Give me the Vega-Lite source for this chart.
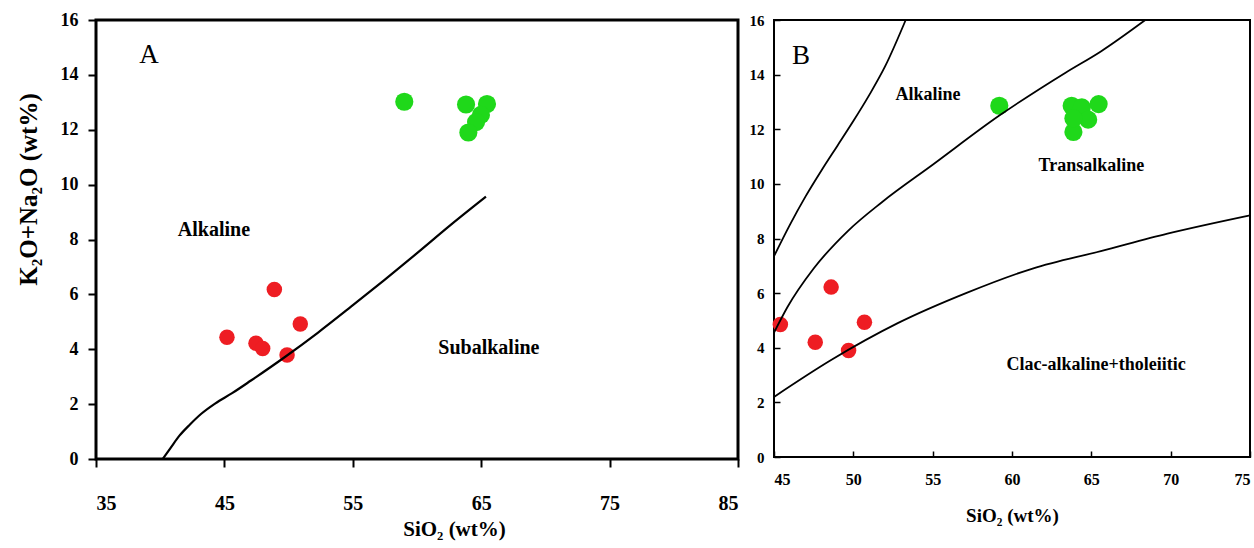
{
  "$schema": "https://vega.github.io/schema/vega-lite/v6.json",
  "background": "white",
  "padding": {"left": 14, "top": 9, "right": 0, "bottom": 0},
  "spacing": 36,
  "bounds": "flush",
  "config": {
    "font": "Liberation Serif",
    "view": {"stroke": null},
    "axis": {"labelFont": "Liberation Serif", "titleFont": "Liberation Serif", "labelFontWeight": "bold", "titleFontWeight": "bold", "labelColor": "black", "titleColor": "black", "tickColor": "black", "grid": false, "domain": false}
  },
  "datasets": {
    "a_pts": [
      {"sio2": 45.2, "alk": 4.44, "group": "mafic"},
      {"sio2": 47.46, "alk": 4.22, "group": "mafic"},
      {"sio2": 47.98, "alk": 4.03, "group": "mafic"},
      {"sio2": 48.89, "alk": 6.18, "group": "mafic"},
      {"sio2": 50.91, "alk": 4.92, "group": "mafic"},
      {"sio2": 49.88, "alk": 3.79, "group": "mafic"},
      {"sio2": 59.01, "alk": 13.02, "group": "felsic"},
      {"sio2": 63.82, "alk": 12.92, "group": "felsic"},
      {"sio2": 65.45, "alk": 12.94, "group": "felsic"},
      {"sio2": 64.98, "alk": 12.54, "group": "felsic"},
      {"sio2": 64.6, "alk": 12.28, "group": "felsic"},
      {"sio2": 64.0, "alk": 11.9, "group": "felsic"}
    ],
    "a_line": [
      {"sio2": 40.19, "alk": 0.0},
      {"sio2": 40.8, "alk": 0.4},
      {"sio2": 41.5, "alk": 0.85},
      {"sio2": 42.3, "alk": 1.25},
      {"sio2": 43.2, "alk": 1.65},
      {"sio2": 44.3, "alk": 2.03},
      {"sio2": 45.6, "alk": 2.4},
      {"sio2": 47.07, "alk": 2.86},
      {"sio2": 49.66, "alk": 3.7},
      {"sio2": 52.27, "alk": 4.6},
      {"sio2": 54.86, "alk": 5.55},
      {"sio2": 57.45, "alk": 6.52},
      {"sio2": 60.05, "alk": 7.52},
      {"sio2": 62.65, "alk": 8.54},
      {"sio2": 65.37, "alk": 9.56}
    ],
    "a_panel": [
      {"sio2": 39.13, "alk": 14.72, "label": "A"}
    ],
    "a_fields": [
      {"sio2": 44.19, "alk": 8.35, "label": "Alkaline"},
      {"sio2": 65.6, "alk": 4.05, "label": "Subalkaline"}
    ],
    "b_pts": [
      {"sio2": 45.4, "alk": 4.85, "group": "mafic"},
      {"sio2": 47.6, "alk": 4.2, "group": "mafic"},
      {"sio2": 48.6, "alk": 6.22, "group": "mafic"},
      {"sio2": 50.7, "alk": 4.93, "group": "mafic"},
      {"sio2": 49.7, "alk": 3.9, "group": "mafic"},
      {"sio2": 59.2, "alk": 12.86, "group": "felsic"},
      {"sio2": 63.76, "alk": 12.86, "group": "felsic"},
      {"sio2": 64.4, "alk": 12.8, "group": "felsic"},
      {"sio2": 65.46, "alk": 12.92, "group": "felsic"},
      {"sio2": 64.8, "alk": 12.35, "group": "felsic"},
      {"sio2": 63.87, "alk": 11.9, "group": "felsic"},
      {"sio2": 63.87, "alk": 12.4, "group": "felsic"}
    ],
    "b_lines": [
      {"curve": "c1", "sio2": 45.0, "alk": 7.35},
      {"curve": "c1", "sio2": 46.0, "alk": 8.5},
      {"curve": "c1", "sio2": 47.0, "alk": 9.55},
      {"curve": "c1", "sio2": 48.0, "alk": 10.5},
      {"curve": "c1", "sio2": 49.0, "alk": 11.4},
      {"curve": "c1", "sio2": 50.0, "alk": 12.3},
      {"curve": "c1", "sio2": 51.0, "alk": 13.25},
      {"curve": "c1", "sio2": 52.0, "alk": 14.3},
      {"curve": "c1", "sio2": 53.3, "alk": 16.0},
      {"curve": "c2", "sio2": 45.0, "alk": 4.55},
      {"curve": "c2", "sio2": 45.85, "alk": 5.49},
      {"curve": "c2", "sio2": 47.5, "alk": 6.9},
      {"curve": "c2", "sio2": 49.7, "alk": 8.3},
      {"curve": "c2", "sio2": 51.8, "alk": 9.33},
      {"curve": "c2", "sio2": 55.0, "alk": 10.7},
      {"curve": "c2", "sio2": 59.2, "alk": 12.5},
      {"curve": "c2", "sio2": 63.4, "alk": 14.08},
      {"curve": "c2", "sio2": 65.6, "alk": 14.85},
      {"curve": "c2", "sio2": 68.4, "alk": 16.0},
      {"curve": "c3", "sio2": 45.0, "alk": 2.2},
      {"curve": "c3", "sio2": 48.6, "alk": 3.55},
      {"curve": "c3", "sio2": 52.8, "alk": 4.9},
      {"curve": "c3", "sio2": 57.1, "alk": 6.0},
      {"curve": "c3", "sio2": 61.3, "alk": 6.9},
      {"curve": "c3", "sio2": 65.6, "alk": 7.54},
      {"curve": "c3", "sio2": 69.8, "alk": 8.18},
      {"curve": "c3", "sio2": 75.0, "alk": 8.85}
    ],
    "b_panel": [
      {"sio2": 46.7, "alk": 14.7, "label": "B"}
    ],
    "b_fields": [
      {"sio2": 54.7, "alk": 13.24, "label": "Alkaline"},
      {"sio2": 65.0, "alk": 10.64, "label": "Transalkaline"},
      {"sio2": 65.3, "alk": 3.38, "label": "Clac-alkaline+tholeiitic"}
    ]
  },
  "hconcat": [
    {
      "width": 642,
      "height": 439,
      "view": {"stroke": "black", "strokeWidth": 3},
      "layer": [
        {
          "data": {"name": "a_pts"},
          "mark": {"type": "circle", "opacity": 1},
          "encoding": {
            "x": {"field": "sio2", "type": "quantitative", "scale": {"domain": [35, 85], "nice": false, "zero": false},
              "axis": {"values": [35, 45, 55, 65, 75, 85], "tickSize": 8, "tickWidth": 2, "labelFontSize": 20, "labelPadding": 26, "title": "SiO₂ (wt%)", "titleFontSize": 21, "titleX": 358, "titleY": 70, "titleAlign": "center", "titleBaseline": "middle"}},
            "y": {"field": "alk", "type": "quantitative", "scale": {"domain": [0, 16], "nice": false, "zero": false},
              "axis": {"values": [0, 2, 4, 6, 8, 10, 12, 14, 16], "tickSize": 8, "tickWidth": 2, "labelFontSize": 18, "labelPadding": 10, "title": "K₂O+Na₂O (wt%)", "titleFontSize": 25, "titleAngle": -90, "titleX": -68, "titleY": 169, "titleAlign": "center", "titleBaseline": "middle"}},
            "color": {"field": "group", "type": "nominal", "scale": {"domain": ["mafic", "felsic"], "range": ["#ee1d23", "#1fd81a"]}, "legend": null},
            "size": {"field": "group", "type": "nominal", "scale": {"domain": ["mafic", "felsic"], "range": [240, 330]}, "legend": null}
          }
        },
        {
          "data": {"name": "a_line"},
          "mark": {"type": "line", "color": "black", "strokeWidth": 2.2, "interpolate": "monotone"},
          "encoding": {
            "x": {"field": "sio2", "type": "quantitative"},
            "y": {"field": "alk", "type": "quantitative"}
          }
        },
        {
          "data": {"name": "a_panel"},
          "mark": {"type": "text", "align": "center", "baseline": "middle", "color": "black", "font": "Liberation Serif", "fontSize": 27, "fontWeight": "normal"},
          "encoding": {
            "x": {"field": "sio2", "type": "quantitative"},
            "y": {"field": "alk", "type": "quantitative"},
            "text": {"field": "label"}
          }
        },
        {
          "data": {"name": "a_fields"},
          "mark": {"type": "text", "align": "center", "baseline": "middle", "color": "black", "font": "Liberation Serif", "fontSize": 20, "fontWeight": "bold"},
          "encoding": {
            "x": {"field": "sio2", "type": "quantitative"},
            "y": {"field": "alk", "type": "quantitative"},
            "text": {"field": "label"}
          }
        }
      ]
    },
    {
      "width": 476,
      "height": 437,
      "view": {"stroke": "black", "strokeWidth": 2},
      "layer": [
        {
          "data": {"name": "b_pts"},
          "mark": {"type": "circle", "opacity": 1},
          "encoding": {
            "x": {"field": "sio2", "type": "quantitative", "scale": {"domain": [45, 75], "nice": false, "zero": false},
              "axis": {"values": [45, 50, 55, 60, 65, 70, 75], "tickSize": -6, "tickWidth": 1.5, "labelFontSize": 16, "labelPadding": 20, "labelFlush": true, "title": "SiO₂ (wt%)", "titleFontSize": 19, "titleY": 58, "titleBaseline": "middle"}},
            "y": {"field": "alk", "type": "quantitative", "scale": {"domain": [0, 16], "nice": false, "zero": false},
              "axis": {"values": [0, 2, 4, 6, 8, 10, 12, 14, 16], "tickSize": -6, "tickWidth": 1.5, "labelFontSize": 15, "labelPadding": 16, "title": null}},
            "color": {"field": "group", "type": "nominal", "scale": {"domain": ["mafic", "felsic"], "range": ["#ee1d23", "#2cc52a"]}, "legend": null},
            "size": {"field": "group", "type": "nominal", "scale": {"domain": ["mafic", "felsic"], "range": [340, 260]}, "legend": null}
          }
        },
        {
          "data": {"name": "b_lines"},
          "mark": {"type": "line", "color": "black", "strokeWidth": 1.8, "interpolate": "monotone"},
          "encoding": {
            "x": {"field": "sio2", "type": "quantitative"},
            "y": {"field": "alk", "type": "quantitative"},
            "detail": {"field": "curve", "type": "nominal"}
          }
        },
        {
          "data": {"name": "b_panel"},
          "mark": {"type": "text", "align": "center", "baseline": "middle", "color": "black", "font": "Liberation Serif", "fontSize": 27, "fontWeight": "normal"},
          "encoding": {
            "x": {"field": "sio2", "type": "quantitative"},
            "y": {"field": "alk", "type": "quantitative"},
            "text": {"field": "label"}
          }
        },
        {
          "data": {"name": "b_fields"},
          "mark": {"type": "text", "align": "center", "baseline": "middle", "color": "black", "font": "Liberation Serif", "fontSize": 18, "fontWeight": "bold"},
          "encoding": {
            "x": {"field": "sio2", "type": "quantitative"},
            "y": {"field": "alk", "type": "quantitative"},
            "text": {"field": "label"}
          }
        }
      ]
    }
  ]
}
